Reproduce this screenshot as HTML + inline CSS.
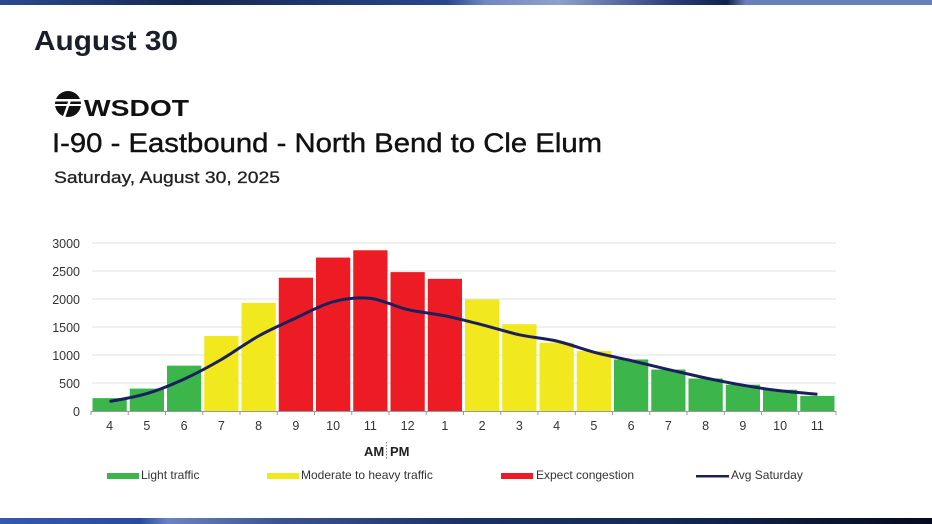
<!DOCTYPE html>
<html><head><meta charset="utf-8"><style>
html,body{margin:0;padding:0;background:#fff;}
body{width:932px;height:524px;overflow:hidden;position:relative;font-family:"Liberation Sans",sans-serif;}
.top{position:absolute;left:0;top:0;width:932px;height:5px;background:linear-gradient(90deg,#2b4a8f 0%,#16284f 20%,#28478e 48%,#7088c0 52%,#8fa0cc 60%,#2a3f78 72%,#10214c 78%,#6a80b8 80%,#6a80b8 100%);}
.bot{position:absolute;left:0;top:518px;width:932px;height:6px;background:linear-gradient(90deg,#3558b0 0%,#2a4aa0 15%,#6a84c0 18%,#3a5490 30%,#1a3260 50%,#132a55 70%,#0b1a3a 85%,#050a20 100%);}
</style></head><body>
<div class="top"></div>
<div class="bot"></div>
<svg width="932" height="524" style="position:absolute;left:0;top:0" font-family="Liberation Sans, sans-serif">
<text x="34" y="50" font-size="28" fill="#1a1f2a" font-weight="bold" textLength="144" lengthAdjust="spacingAndGlyphs">August 30</text>
<circle cx="68" cy="104" r="13" fill="#111"/>
<rect x="54" y="99" width="28" height="2.5" fill="#fff"/>
<rect x="54" y="104" width="28" height="2" fill="#fff"/>
<line x1="70" y1="100" x2="64" y2="117" stroke="#fff" stroke-width="2.5"/>
<text x="84" y="116" font-size="23" font-weight="bold" fill="#111" textLength="105" lengthAdjust="spacingAndGlyphs">WSDOT</text>
<text x="52" y="152" font-size="27" fill="#111" stroke="#111" stroke-width="0.4" textLength="550" lengthAdjust="spacingAndGlyphs">I-90 - Eastbound - North Bend to Cle Elum</text>
<text x="54" y="183" font-size="17" fill="#222" stroke="#222" stroke-width="0.3" textLength="226" lengthAdjust="spacingAndGlyphs">Saturday, August 30, 2025</text>
<g stroke="#e2e2e2" stroke-width="1">
<line x1="92" y1="243" x2="836" y2="243"/><line x1="92" y1="271" x2="836" y2="271"/><line x1="92" y1="299" x2="836" y2="299"/><line x1="92" y1="327" x2="836" y2="327"/><line x1="92" y1="355" x2="836" y2="355"/><line x1="92" y1="383" x2="836" y2="383"/>
</g>
<g font-size="12.5" fill="#333" text-anchor="end">
<text x="80" y="248">3000</text><text x="80" y="276">2500</text><text x="80" y="304">2000</text><text x="80" y="332">1500</text><text x="80" y="360">1000</text><text x="80" y="388">500</text><text x="80" y="416">0</text>
</g>
<g id="bars"></g>
<line x1="91" y1="411.5" x2="836" y2="411.5" stroke="#999" stroke-width="1"/>
<g id="ticks"></g>
<path id="ln" fill="none" stroke="#1b1f5e" stroke-width="3" stroke-linejoin="round"/>
<text x="364" y="456" font-size="13" font-weight="bold" fill="#222">AM</text>
<line x1="386.5" y1="442" x2="386.5" y2="460" stroke="#888" stroke-dasharray="1.5,1.5"/>
<text x="390" y="456" font-size="13" font-weight="bold" fill="#222">PM</text>
<g font-size="12" fill="#333">
<rect x="107" y="473" width="32" height="6" fill="#3cb54a"/><text x="141" y="479">Light traffic</text>
<rect x="267" y="473" width="32" height="6" fill="#f2e81e"/><text x="301" y="479">Moderate to heavy traffic</text>
<rect x="501" y="473" width="32" height="6" fill="#ed1c24"/><text x="536" y="479">Expect congestion</text>
<rect x="696" y="475" width="33" height="2.5" fill="#1b1f5e"/><text x="731" y="479">Avg Saturday</text>
</g>
</svg>
<script>
var v=[230,400,810,1340,1930,2380,2740,2870,2480,2360,1990,1550,1220,1070,920,740,580,470,380,270];
var a=[170,310,570,920,1340,1660,1950,2010,1810,1700,1540,1360,1250,1050,900,740,590,460,360,300];
var c=["g","g","g","y","y","r","r","r","r","r","y","y","y","y","g","g","g","g","g","g"];
var col={g:"#3cb54a",y:"#f2e81e",r:"#ed1c24"};
var lab=[4,5,6,7,8,9,10,11,12,1,2,3,4,5,6,7,8,9,10,11];
var ns="http://www.w3.org/2000/svg",B=document.getElementById("bars"),T=document.getElementById("ticks");
var s=37.25,x0=91,y0=411,k=0.056,P=[];
for(var i=0;i<20;i++){
 var r=document.createElementNS(ns,"rect");var h=v[i]*k;
 r.setAttribute("x",x0+i*s+1.5);r.setAttribute("y",y0-h);r.setAttribute("width",s-3);r.setAttribute("height",h);r.setAttribute("fill",col[c[i]]);B.appendChild(r);
 var l=document.createElementNS(ns,"line");l.setAttribute("x1",x0+i*s);l.setAttribute("x2",x0+i*s);l.setAttribute("y1",411);l.setAttribute("y2",415);l.setAttribute("stroke","#999");T.appendChild(l);
 var t=document.createElementNS(ns,"text");t.setAttribute("x",x0+i*s+s/2);t.setAttribute("y",430);t.setAttribute("font-size","12.5");t.setAttribute("fill","#333");t.setAttribute("text-anchor","middle");t.textContent=lab[i];T.appendChild(t);
 P.push([x0+i*s+s/2,y0-a[i]*k]);
}
var d="M"+P[0][0]+","+P[0][1];
for(var i=0;i<19;i++){var p0=P[Math.max(i-1,0)],p1=P[i],p2=P[i+1],p3=P[Math.min(i+2,19)];
 d+="C"+(p1[0]+(p2[0]-p0[0])/6).toFixed(1)+","+(p1[1]+(p2[1]-p0[1])/6).toFixed(1)+" "+(p2[0]-(p3[0]-p1[0])/6).toFixed(1)+","+(p2[1]-(p3[1]-p1[1])/6).toFixed(1)+" "+p2[0].toFixed(1)+","+p2[1].toFixed(1);}
var l=document.createElementNS(ns,"line");l.setAttribute("x1",836);l.setAttribute("x2",836);l.setAttribute("y1",411);l.setAttribute("y2",415);l.setAttribute("stroke","#999");T.appendChild(l);
document.getElementById("ln").setAttribute("d",d);
</script>
</body></html>
